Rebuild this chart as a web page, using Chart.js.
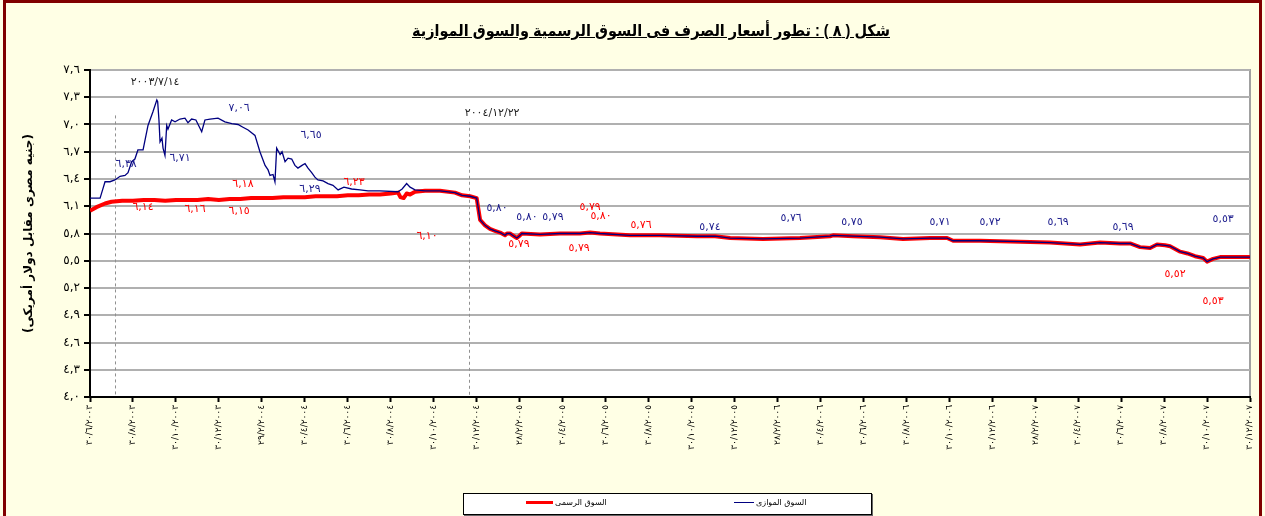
<!DOCTYPE html>
<html lang="ar">
<head>
<meta charset="utf-8">
<script src="https://cdn.jsdelivr.net/npm/chart.js@4.4.1/dist/chart.umd.min.js"></script>
<style>
html,body{margin:0;padding:0;background:#FFFFE5;}
#wrap{position:relative;width:1265px;height:516px;overflow:hidden;background:#FFFFE5;}
#frame{position:absolute;left:3px;top:0;width:1253px;height:540px;border:3px solid #800000;}
#chart{position:absolute;left:0;top:0;}
#title{position:absolute;left:351px;top:21px;width:600px;text-align:center;direction:rtl;font:bold 16px "Liberation Sans","DejaVu Sans",sans-serif;text-decoration:underline;color:#000;white-space:nowrap;transform:scaleX(0.905);transform-origin:300px 0;}
#legend{position:absolute;left:463px;top:493px;width:407px;height:20px;border:1px solid #000;background:#fff;box-shadow:1px 1px 0 #666;}
#legend .sw{position:absolute;}
#legend .lbl{position:absolute;top:4px;font:8px "DejaVu Sans",sans-serif;color:#000;white-space:nowrap;direction:rtl;}
</style>
</head>
<body>
<div id="wrap">
  <div id="frame"></div>
  <canvas id="chart" width="1265" height="516"></canvas>
  <div id="title">شكل ( ٨ ) : تطور أسعار الصرف فى السوق الرسمية والسوق الموازية</div>
  <div id="legend">
    <div class="sw" style="left:62px;top:7px;width:27px;height:3px;background:#FF0000;"></div>
    <div class="lbl" style="left:91px;">السوق الرسمى</div>
    <div class="sw" style="left:270px;top:8px;width:20px;height:1px;background:#000080;"></div>
    <div class="lbl" style="left:292px;">السوق الموازى</div>
  </div>
</div>
<script>
// ---- data (x = months since 30/6/2003) ----
const seriesNames = ['السوق الموازى', 'السوق الرسمى'];

const parallelX = [0,0.47,0.61,0.70,0.93,1.16,1.40,1.63,1.77,1.94,2.09,2.23,2.47,2.70,2.93,3.11,3.15,3.21,3.26,3.35,3.40,3.49,3.57,3.63,3.80,3.96,4.19,4.42,4.56,4.73,4.93,5.20,5.35,5.59,5.96,6.28,6.60,6.89,7.12,7.36,7.68,7.91,8.15,8.29,8.38,8.52,8.61,8.69,8.85,8.94,9.08,9.22,9.39,9.54,9.68,9.87,10.01,10.15,10.32,10.47,10.61,10.85,11.08,11.31,11.55,11.82,12.18,12.57,12.94,13.50,14.34,14.53,14.74,14.90,15.13,15.60,15.91,16.29,16.99,17.32,17.69,18.00,18.06,18.16,18.39,18.62,18.85,19.09,19.32,19.41,19.55,19.74,19.87,19.97,20.10,20.95,21.88,22.81,23.28,23.74,25.14,26.54,28.26,29.10,29.80,31.33,33.05,34.45,34.59,35.52,36.78,37.85,39.11,39.90,40.18,41.43,43.30,44.69,46.09,47.02,47.95,48.42,48.88,49.35,49.67,50.05,50.28,50.75,51.09,51.44,51.82,52.00,52.28,52.61,53.31,54.00];
const parallelY = [6.19,6.19,6.30,6.37,6.37,6.39,6.43,6.44,6.47,6.59,6.62,6.72,6.72,6.99,7.14,7.27,7.25,7.05,6.81,6.85,6.74,6.66,6.99,6.95,7.05,7.03,7.06,7.07,7.02,7.06,7.05,6.92,7.05,7.06,7.07,7.03,7.01,7.00,6.97,6.94,6.88,6.70,6.55,6.50,6.44,6.45,6.37,6.74,6.67,6.70,6.59,6.63,6.62,6.55,6.52,6.55,6.57,6.52,6.47,6.42,6.39,6.38,6.35,6.33,6.28,6.31,6.29,6.28,6.27,6.27,6.26,6.29,6.35,6.31,6.28,6.27,6.27,6.27,6.25,6.22,6.21,6.19,6.10,5.95,5.89,5.85,5.83,5.81,5.78,5.80,5.80,5.77,5.75,5.77,5.80,5.79,5.80,5.80,5.81,5.80,5.78,5.78,5.77,5.77,5.75,5.74,5.75,5.77,5.78,5.77,5.76,5.74,5.75,5.75,5.72,5.72,5.71,5.70,5.68,5.70,5.69,5.69,5.65,5.64,5.68,5.67,5.66,5.60,5.58,5.55,5.53,5.49,5.52,5.54,5.54,5.54];

const officialX = [0,0.3,0.7,1.0,1.5,2.0,2.5,3.0,3.5,4.0,4.5,5.0,5.5,6.0,6.5,7.0,7.5,8.0,8.5,9.0,9.5,10.0,10.5,11.0,11.5,12.0,12.5,13.0,13.5,14.0,14.34,14.45,14.6,14.74,14.9,15.13,15.6,15.91,16.29,16.99,17.32,17.69,18.00,18.06,18.16,18.39,18.62,18.85,19.09,19.32,19.41,19.55,19.74,19.87,19.97,20.10,20.95,21.88,22.81,23.28,23.74,25.14,26.54,28.26,29.10,29.80,31.33,33.05,34.45,34.59,35.52,36.78,37.85,39.11,39.90,40.18,41.43,43.30,44.69,46.09,47.02,47.95,48.42,48.88,49.35,49.67,50.05,50.28,50.75,51.09,51.44,51.82,52.00,52.28,52.61,53.31,54.00];
const officialY = [6.05,6.09,6.13,6.15,6.16,6.16,6.17,6.17,6.16,6.17,6.17,6.17,6.18,6.17,6.18,6.18,6.19,6.19,6.19,6.20,6.20,6.20,6.21,6.21,6.21,6.22,6.22,6.23,6.23,6.24,6.25,6.20,6.19,6.24,6.23,6.26,6.27,6.27,6.27,6.25,6.22,6.21,6.19,6.10,5.95,5.89,5.85,5.83,5.81,5.78,5.80,5.80,5.77,5.75,5.77,5.80,5.79,5.80,5.80,5.81,5.80,5.78,5.78,5.77,5.77,5.75,5.74,5.75,5.77,5.78,5.77,5.76,5.74,5.75,5.75,5.72,5.72,5.71,5.70,5.68,5.70,5.69,5.69,5.65,5.64,5.68,5.67,5.66,5.60,5.58,5.55,5.53,5.49,5.52,5.54,5.54,5.54];

const xTickValues = [0,2,4,6,8,10,12,14,16,18,20,22,24,26,28,30,32,34,36,38,40,42,44,46,48,50,52,54];
const xTickLabels = ['٣٠/٦/٢٠٠٣','٣٠/٨/٢٠٠٣','٣٠/١٠/٢٠٠٣','٣٠/١٢/٢٠٠٣','٢٩/٢/٢٠٠٤','٣٠/٤/٢٠٠٤','٣٠/٦/٢٠٠٤','٣٠/٨/٢٠٠٤','٣٠/١٠/٢٠٠٤','٣٠/١٢/٢٠٠٤','٢٨/٢/٢٠٠٥','٣٠/٤/٢٠٠٥','٣٠/٦/٢٠٠٥','٣٠/٨/٢٠٠٥','٣٠/١٠/٢٠٠٥','٣٠/١٢/٢٠٠٥','٢٨/٢/٢٠٠٦','٣٠/٤/٢٠٠٦','٣٠/٦/٢٠٠٦','٣٠/٨/٢٠٠٦','٣٠/١٠/٢٠٠٦','٣٠/١٢/٢٠٠٦','٢٨/٢/٢٠٠٧','٣٠/٤/٢٠٠٧','٣٠/٦/٢٠٠٧','٣٠/٨/٢٠٠٧','٣٠/١٠/٢٠٠٧','٣٠/١٢/٢٠٠٧'];
const yTickValues = [4.0,4.3,4.6,4.9,5.2,5.5,5.8,6.1,6.4,6.7,7.0,7.3,7.6];
const yTickLabels = ['٤,٠','٤,٣','٤,٦','٤,٩','٥,٢','٥,٥','٥,٨','٦,١','٦,٤','٦,٧','٧,٠','٧,٣','٧,٦'];
const yTitle = '(جنيه مصرى مقابل دولار أمريكى)';

// value labels written on the chart: text, month, value, series
const labelTexts  = ['٦,٣٨','٦,٧١','٧,٠٦','٦,٦٥','٦,٢٩','٥,٨٠','٥,٨٠','٥,٧٩','٥,٧٤','٥,٧٦','٥,٧٥','٥,٧١','٥,٧٢','٥,٦٩','٥,٦٩','٥,٥٣',
                     '٦,١٨','٦,٢٣','٦,١٤','٦,١٦','٦,١٥','٦,١٠','٥,٧٩','٥,٨٠','٥,٧٦','٥,٧٩','٥,٧٩','٥,٥٢','٥,٥٣'];
const labelX      = [1.68,4.19,6.94,10.29,10.24,18.95,20.34,21.55,28.86,32.64,35.47,39.57,41.90,45.07,48.09,52.75,
                     7.12,12.29,2.47,4.89,6.94,15.69,23.28,23.79,25.65,19.97,22.77,50.51,52.28];
const labelY      = [6.565,6.63,7.18,6.88,6.29,6.08,5.98,5.98,5.87,5.97,5.92,5.93,5.93,5.93,5.87,5.96,
                     6.345,6.37,6.09,6.07,6.05,5.77,6.09,5.99,5.89,5.68,5.64,5.35,5.06];
const labelSeries = [0,0,0,0,0,0,0,0,0,0,0,0,0,0,0,0,1,1,1,1,1,1,1,1,1,1,1,1,1];

// dated markers (dashed lines)
const markerTexts = ['٢٠٠٣/٧/١٤','٢٠٠٤/١٢/٢٢'];
const markerX     = [1.16,17.64];
const markerTop   = [7.10,7.03];
const markerTextX = [3.03,18.72];
const markerTextY = [7.47,7.12];

// ---- chart ----
const colors = ['#000080','#FF0000'];
const zip = (xs, ys) => xs.map((x, i) => ({x, y: ys[i]}));

const bgPlugin = {
  id: 'bg',
  beforeDraw(chart) {
    const {ctx, chartArea: a} = chart;
    ctx.save();
    ctx.fillStyle = '#FFFFFF';
    ctx.fillRect(a.left, a.top, a.right - a.left, a.bottom - a.top);
    ctx.strokeStyle = '#A0A0A0';
    ctx.lineWidth = 2;
    ctx.beginPath();
    ctx.moveTo(a.left, a.top);
    ctx.lineTo(a.right, a.top);
    ctx.lineTo(a.right, a.bottom);
    ctx.stroke();
    ctx.restore();
  }
};

const annoPlugin = {
  id: 'anno',
  beforeDatasetsDraw(chart) {
    const {ctx, scales: {x, y}} = chart;
    ctx.save();
    ctx.strokeStyle = '#909090';
    ctx.lineWidth = 1;
    ctx.setLineDash([3, 3]);
    markerX.forEach((m, i) => {
      const px = Math.round(x.getPixelForValue(m)) + 0.5;
      ctx.beginPath();
      ctx.moveTo(px, y.getPixelForValue(markerTop[i]));
      ctx.lineTo(px, y.getPixelForValue(y.min));
      ctx.stroke();
    });
    ctx.restore();
  },
  afterDatasetsDraw(chart) {
    const {ctx, scales: {x, y}} = chart;
    ctx.save();
    ctx.textAlign = 'center';
    ctx.textBaseline = 'middle';
    ctx.font = '11px "DejaVu Sans", sans-serif';
    if ('letterSpacing' in ctx) ctx.letterSpacing = '2.5px';
    labelTexts.forEach((t, i) => {
      ctx.fillStyle = labelSeries[i] === 0 ? '#1a1a8c' : '#FF0000';
      ctx.fillText(t, x.getPixelForValue(labelX[i]), y.getPixelForValue(labelY[i]));
    });
    ctx.fillStyle = '#222222';
    ctx.font = '11px "DejaVu Sans", sans-serif';
    if ('letterSpacing' in ctx) ctx.letterSpacing = '1.5px';
    markerTexts.forEach((t, i) => {
      ctx.fillText(t, x.getPixelForValue(markerTextX[i]), y.getPixelForValue(markerTextY[i]));
    });
    ctx.restore();
  }
};

new Chart(document.getElementById('chart'), {
  type: 'line',
  data: {
    datasets: [
      {label: seriesNames[0], data: zip(parallelX, parallelY), borderColor: colors[0], borderWidth: 1.3, pointRadius: 0, tension: 0, fill: false},
      {label: seriesNames[1], data: zip(officialX, officialY), borderColor: colors[1], borderWidth: 4, pointRadius: 0, tension: 0, fill: false, borderJoinStyle: 'round'}
    ]
  },
  options: {
    responsive: false,
    animation: false,
    devicePixelRatio: 1,
    layout: {padding: {left: 0, right: 15, top: 70, bottom: 0}},
    plugins: {legend: {display: false}, tooltip: {enabled: false}},
    scales: {
      x: {
        type: 'linear',
        min: 0, max: 54,
        afterBuildTicks: s => { s.ticks = xTickValues.map(v => ({value: v})); },
        afterFit: s => { s.height = 119; },
        grid: {drawOnChartArea: false, drawTicks: true, tickLength: 5, tickColor: '#000', tickWidth: 2},
        border: {color: '#000', width: 2},
        ticks: {
          autoSkip: false, minRotation: 90, maxRotation: 90, padding: 3,
          color: '#000', font: {size: 9, family: '"DejaVu Sans", sans-serif'},
          callback: (v, i) => xTickLabels[i]
        }
      },
      y: {
        min: 4.0, max: 7.6,
        afterBuildTicks: s => { s.ticks = yTickValues.map(v => ({value: v})); },
        afterFit: s => { s.width = 90; },
        grid: {color: '#B0B0B0', lineWidth: 2, drawTicks: true, tickLength: 6, tickColor: '#000', tickWidth: 2},
        border: {color: '#000', width: 2},
        ticks: {
          padding: 4, color: '#000', font: {size: 12, family: '"DejaVu Sans", sans-serif'},
          callback: (v, i) => yTickLabels[i]
        },
        title: {display: true, text: yTitle, color: '#000', font: {size: 12, weight: 'bold', family: '"DejaVu Sans", sans-serif'}, padding: {top: 22, bottom: 0}}
      }
    }
  },
  plugins: [bgPlugin, annoPlugin]
});
</script>
</body>
</html>
